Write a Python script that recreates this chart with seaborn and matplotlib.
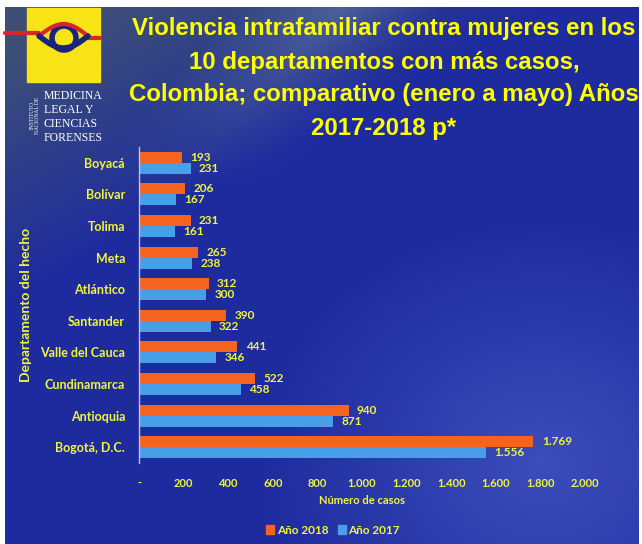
import numpy as np
import pandas as pd
import seaborn as sns
import matplotlib.pyplot as plt
from matplotlib.patches import Rectangle

# Datos: casos de violencia intrafamiliar contra mujeres (enero a mayo)
departamentos = ["Boyacá", "Bolívar", "Tolima", "Meta", "Atlántico", "Santander",
                 "Valle del Cauca", "Cundinamarca", "Antioquia", "Bogotá, D.C."]
casos_2018 = [193, 206, 231, 265, 312, 390, 441, 522, 940, 1769]
casos_2017 = [231, 167, 161, 238, 300, 322, 346, 458, 871, 1556]
series = ["Año 2018", "Año 2017"]
xticks = [0, 200, 400, 600, 800, 1000, 1200, 1400, 1600, 1800, 2000]

W, H = 642, 544
yellow = "#f0f53c"
orange = "#f5641e"
light_blue = "#4a9ee8"

df = pd.DataFrame({
    "Departamento": departamentos * 2,
    "Casos": casos_2018 + casos_2017,
    "Serie": [series[0]] * 10 + [series[1]] * 10,
})


def miles(v):
    # formato con punto como separador de miles
    return f"{v:,.0f}".replace(",", ".")


sns.set_theme(style="white")
plt.rcParams["font.family"] = ["Lato", "DejaVu Sans"]

fig = plt.figure(figsize=(W / 100, H / 100), dpi=100, facecolor="white")

# fondo azul con degradado
bg = fig.add_axes([5 / W, 0, 634 / W, 537 / H])
yy, xx = np.mgrid[0:1:200j, 0:1:200j]
base = np.zeros((200, 200, 3))
base[..., 0] = 0.12
base[..., 1] = 0.17
base[..., 2] = 0.62
# zona gris-azulada arriba a la izquierda
tl = np.clip(1.2 - (xx * 1.4 + yy * 2.2), 0, 1)
base[..., 0] += 0.12 * tl
base[..., 1] += 0.14 * tl
base[..., 2] -= 0.15 * tl
# franja diagonal clara en el título
band = np.clip(1 - np.abs((xx - 0.45) + (yy - 0.1) * 0.8) * 6, 0, 1) * np.clip(1 - yy * 3, 0, 1)
base[..., 0] += 0.12 * band
base[..., 1] += 0.14 * band
base[..., 2] += 0.05 * band
# círculo claro abajo a la derecha
d = np.sqrt((xx - 0.85) ** 2 + ((1 - yy) - 0.15) ** 2)
glow = np.clip(0.45 - d, 0, 1)
base[..., 0] += 0.25 * glow
base[..., 1] += 0.3 * glow
base[..., 2] += 0.25 * glow
bg.imshow(np.clip(base, 0, 1), aspect="auto", extent=[0, 1, 0, 1], origin="upper")
bg.set_axis_off()

# logo
logo = fig.add_axes([0, 0, 1, 1], facecolor="none")
logo.set_xlim(0, W)
logo.set_ylim(H, 0)
logo.set_axis_off()
logo.add_patch(Rectangle((27, 8), 73, 74, color="#f7e316"))
t = np.linspace(0, 1, 100)
logo.plot(5 + 22 * t, [33] * 100, color="#d9262b", lw=3)
logo.plot(27 + 12 * t, [33] * 100, color="#d9262b", lw=3)
logo.plot(88 + 12 * t, [38] * 100, color="#d9262b", lw=3)
logo.plot(39 + 49 * t, 36 - 12 * np.sin(np.pi * t), color="#d9262b", lw=3)
logo.plot(39 + 49 * t, 36 + 12 * np.sin(np.pi * t), color="#1a237e", lw=4)
logo.add_patch(plt.Circle((64, 38), 12, fill=False, ec="#1a237e", lw=4))
for i, palabra in enumerate(["MEDICINA", "LEGAL Y", "CIENCIAS", "FORENSES"]):
    logo.text(44, 96 + i * 14, palabra, color="white", fontsize=8.5,
              family="Liberation Serif", va="center", ha="left")
logo.text(35, 115, "INSTITUTO\nNACIONAL DE", color="white", fontsize=4,
          family="Liberation Serif", rotation=90, va="center", ha="center")

# título
titulo = ["Violencia intrafamiliar contra mujeres en los",
          "10 departamentos con más casos,",
          "Colombia; comparativo (enero a mayo) Años",
          "2017-2018 p*"]
for i, linea in enumerate(titulo):
    logo.text(384, 29 + i * 33, linea, color="#ffff00", fontsize=17.3,
              fontweight="bold", family=["Liberation Sans", "DejaVu Sans"],
              ha="center", va="center")

# gráfico de barras
ax = fig.add_axes([139 / W, (H - 463) / H, (585 - 139) / W, (463 - 147) / H])
sns.barplot(data=df, y="Departamento", x="Casos", hue="Serie", orient="h",
            order=departamentos, hue_order=series, linewidth=0, saturation=1,
            palette=[orange, light_blue], width=0.7, ax=ax, legend=False)
ax.set_facecolor("none")
ax.set_xlim(0, 2000)
ax.set_xticks(xticks)
ax.set_xticklabels(["-" if v == 0 else miles(v) for v in xticks])
for s in ["top", "right", "bottom"]:
    ax.spines[s].set_visible(False)
ax.spines["left"].set_color("#b8c4e8")
ax.spines["left"].set_linewidth(1)
ax.tick_params(axis="x", length=0, pad=11, labelsize=8, labelcolor=yellow)
ax.tick_params(axis="y", length=0, pad=10, labelsize=9, labelcolor=yellow)
for lab in ax.get_xticklabels() + ax.get_yticklabels():
    lab.set_fontweight("bold")
ax.set_xlabel("Número de casos", color=yellow, fontsize=8, fontweight="bold", labelpad=4)
ax.set_ylabel("Departamento del hecho", color=yellow, fontsize=10,
              fontweight="bold", labelpad=6)

for cont in ax.containers:
    ax.bar_label(cont, labels=[miles(v) for v in cont.datavalues], padding=6,
                 color=yellow, fontsize=8.5, fontweight="bold")

# leyenda
handles = [Rectangle((0, 0), 1, 1, color=c) for c in [orange, light_blue]]
leg = fig.legend(handles, series, loc="center", bbox_to_anchor=(333 / W, 1 - 530 / H),
                 ncol=2, frameon=False, fontsize=8.5, handlelength=0.7,
                 handleheight=0.7, handletextpad=0.2, columnspacing=0.8)
for txt in leg.get_texts():
    txt.set_color(yellow)
    txt.set_fontweight("bold")

fig.savefig("out.png", dpi=100, facecolor="white")
